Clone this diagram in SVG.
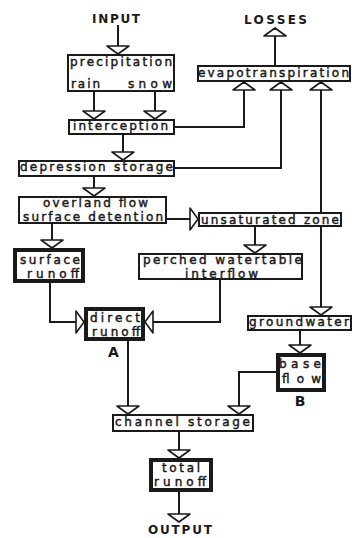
<svg xmlns="http://www.w3.org/2000/svg" width="355" height="538" viewBox="0 0 355 538">
<style>
.bg{fill:#fff}
.box{fill:#fff;stroke:#1a1a1a;stroke-width:2}
.tbox{fill:#fff;stroke:#1a1a1a;stroke-width:4}
.t{font-family:"DejaVu Sans","Liberation Sans",sans-serif;font-size:12px;fill:#1a1a1a;stroke:#1a1a1a;stroke-width:0.45;text-anchor:middle}
.cap{font-family:"DejaVu Sans","Liberation Sans",sans-serif;font-size:12px;font-weight:bold;fill:#1a1a1a;text-anchor:middle}
.lab{font-family:"DejaVu Sans","Liberation Sans",sans-serif;font-size:14px;font-weight:bold;fill:#1a1a1a;text-anchor:middle}
.c{fill:none;stroke:#1a1a1a;stroke-width:2;marker-end:url(#ah)}
</style>
<defs>
<marker id="ah" markerUnits="userSpaceOnUse" viewBox="-11 -14 14 28" markerWidth="14" markerHeight="28" refX="0" refY="0" orient="auto-start-reverse" overflow="visible">
<path d="M-8,-11 L0,0 L-8,11 Z" fill="#fff" stroke="#1a1a1a" stroke-width="1.6" stroke-linejoin="round"/>
</marker>
</defs>
<rect class="bg" x="0" y="0" width="355" height="538"/>

<g id="connectors">
<path class="c" d="M118,25 V54"/>
<path class="c" d="M94,92 V119"/>
<path class="c" d="M155,92 V119"/>
<path class="c" d="M123,135 V160"/>
<path class="c" d="M94,177 V196"/>
<path class="c" d="M52,224 V248"/>
<path class="c" d="M167,219 H198"/>
<path class="c" d="M255,227 V253"/>
<path class="c" d="M50,283 V322 H84"/>
<path class="c" d="M220,280 V322 H145"/>
<path class="c" d="M128,341 V414"/>
<path class="c" d="M300,331 V353"/>
<path class="c" d="M276,372 H239 V414"/>
<path class="c" d="M179,432 V458"/>
<path class="c" d="M179,492 V522"/>
<path class="c" d="M175,127 H244 V82"/>
<path class="c" d="M175,168 H281 V82"/>
<path class="c" d="M321,315 V82" style="marker-start:url(#ah)"/>
<path class="c" d="M275,65 V28"/>
</g>

<g id="input"><text class="cap" x="116" y="23" textLength="48" lengthAdjust="spacing">INPUT</text></g>
<g id="losses"><text class="cap" x="275.5" y="24" textLength="63" lengthAdjust="spacing">LOSSES</text></g>

<g id="precipitation">
<rect class="box" x="68" y="55" width="106" height="36"/>
<text class="t" x="121" y="66" textLength="102" lengthAdjust="spacing">precipitation</text>
<text class="t" x="85.5" y="88" textLength="29" lengthAdjust="spacing">rain</text>
<text class="t" x="150" y="88" textLength="44" lengthAdjust="spacing">snow</text>
</g>

<g id="interception">
<rect class="box" x="69" y="120" width="105" height="14"/>
<text class="t" x="120.5" y="130" textLength="95" lengthAdjust="spacing">interception</text>
</g>

<g id="depression">
<rect class="box" x="19" y="161" width="155" height="15"/>
<text class="t" x="96.5" y="171" textLength="153" lengthAdjust="spacing">depression storage</text>
</g>

<g id="overland">
<rect class="box" x="19" y="197" width="147" height="26"/>
<text class="t" x="95.5" y="207" textLength="105" lengthAdjust="spacing">overland flow</text>
<text class="t" x="93" y="221" textLength="140" lengthAdjust="spacing">surface detention</text>
</g>

<g id="evapotranspiration">
<rect class="box" x="198" y="66" width="152" height="15"/>
<text class="t" x="273.5" y="77" textLength="151" lengthAdjust="spacing">evapotranspiration</text>
</g>

<g id="unsaturated">
<rect class="box" x="199" y="213" width="142" height="13"/>
<text class="t" x="270" y="224" textLength="138" lengthAdjust="spacing">unsaturated zone</text>
</g>

<g id="perched">
<rect class="box" x="139" y="254" width="163" height="25"/>
<text class="t" x="222.5" y="263.5" textLength="159" lengthAdjust="spacing">perched watertable</text>
<text class="t" x="221.5" y="277.5" textLength="73" lengthAdjust="spacing">interflow</text>
</g>

<g id="surface-runoff">
<rect class="tbox" x="15" y="250" width="68" height="31"/>
<text class="t" x="50" y="264" textLength="60" lengthAdjust="spacing">surface</text>
<text class="t" x="53" y="278" textLength="52" lengthAdjust="spacing">runoff</text>
</g>

<g id="direct-runoff">
<rect class="tbox" x="86" y="309" width="57" height="30"/>
<text class="t" x="115" y="321.5" textLength="50" lengthAdjust="spacing">direct</text>
<text class="t" x="116" y="335.5" textLength="48" lengthAdjust="spacing">runoff</text>
<text class="lab" x="113.5" y="357">A</text>
</g>

<g id="groundwater">
<rect class="box" x="248" y="316" width="103" height="14"/>
<text class="t" x="299" y="326" textLength="100" lengthAdjust="spacing">groundwater</text>
</g>

<g id="base-flow">
<rect class="tbox" x="278" y="355" width="46" height="35"/>
<text class="t" x="300" y="368" textLength="42" lengthAdjust="spacing">base</text>
<text class="t" x="301.5" y="383" textLength="39" lengthAdjust="spacing">flow</text>
<text class="lab" x="300" y="406">B</text>
</g>

<g id="channel-storage">
<rect class="box" x="113" y="415" width="140" height="16"/>
<text class="t" x="182.5" y="426" textLength="135" lengthAdjust="spacing">channel storage</text>
</g>

<g id="total-runoff">
<rect class="tbox" x="151" y="460" width="60" height="30"/>
<text class="t" x="181" y="471.5" textLength="38" lengthAdjust="spacing">total</text>
<text class="t" x="180" y="485.5" textLength="52" lengthAdjust="spacing">runoff</text>
</g>

<g id="output"><text class="cap" x="180" y="534" textLength="64" lengthAdjust="spacing">OUTPUT</text></g>
</svg>
